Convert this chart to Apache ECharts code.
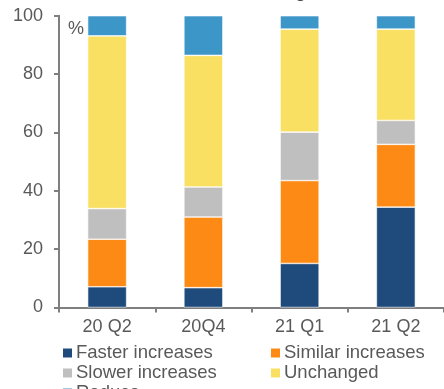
<!DOCTYPE html>
<html>
<head>
<meta charset="utf-8">
<script src="https://cdn.jsdelivr.net/npm/echarts@6/dist/echarts.min.js"></script>
<style>
  html, body { margin: 0; padding: 0; background: #fff; }
  #chart { width: 444px; height: 389px; }
</style>
</head>
<body>
<div id="chart"></div>
<script>
// Quarters surveyed
const categories = ['20 Q2', '20Q4', '21 Q1', '21 Q2'];

// Share of responses, % (each quarter stacks to 100)
const fasterIncreases  = [7.1, 6.8, 15.1, 34.4];
const similarIncreases = [16.3, 24.2, 28.4, 21.5];
const slowerIncreases  = [10.5, 10.3, 16.6, 8.2];
const unchanged        = [59.2, 45.1, 35.3, 31.3];
const reduce           = [6.9, 13.6, 4.6, 4.6];

const yTicks = [0, 20, 40, 60, 80, 100];

const seriesDefs = [
  { name: 'Faster increases', data: fasterIncreases, color: '#1F4A7C' },
  { name: 'Similar increases', data: similarIncreases, color: '#FD8A14' },
  { name: 'Slower increases', data: slowerIncreases, color: '#BFBFBF' },
  { name: 'Unchanged', data: unchanged, color: '#F9E063' },
  { name: 'Reduce', data: reduce, color: '#3D96C8' }
];

const textColor = '#595959';
const axisColor = '#7F7F7F';
const font = 'Liberation Sans, Arial, sans-serif';

const chart = echarts.init(document.getElementById('chart'), null, { renderer: 'canvas' });

const legendCommon = {
  type: 'plain', orient: 'vertical', top: 343.5, height: 120, itemGap: 1,
  itemWidth: 11, itemHeight: 11, icon: 'rect', padding: 0,
  textStyle: { color: textColor, fontSize: 18.5, fontFamily: font, padding: [0, 0, 0, -2] }
};

chart.setOption({
  animation: false,
  grid: { left: 59, top: 15.7, width: 392, height: 291.8, containLabel: false },
  xAxis: {
    type: 'category',
    data: categories,
    axisLine: { lineStyle: { color: axisColor, width: 2 } },
    axisTick: { show: true, length: 5, lineStyle: { color: axisColor, width: 2 } },
    axisLabel: { color: textColor, fontSize: 18, fontFamily: font, margin: 11 }
  },
  yAxis: {
    type: 'value',
    min: yTicks[0],
    max: yTicks[yTicks.length - 1],
    interval: 20,
    axisLine: { show: true, lineStyle: { color: axisColor, width: 2 } },
    axisTick: { show: true, length: 5, lineStyle: { color: axisColor, width: 2 } },
    splitLine: { show: false },
    axisLabel: { color: textColor, fontSize: 18, fontFamily: font, margin: 16 }
  },
  legend: [
    Object.assign({}, legendCommon, {
      left: 61,
      data: ['Faster increases', 'Slower increases', 'Reduce']
    }),
    Object.assign({}, legendCommon, {
      left: 269,
      data: ['Similar increases', 'Unchanged']
    })
  ],
  graphic: [
    {
      type: 'text', left: 68, top: 20,
      style: { text: '%', fill: textColor, font: '18px ' + font }
    },
    {
      type: 'text', left: 245, top: -17,
      style: { text: 'Pricing', fill: '#404040', font: 'bold 18px ' + font }
    }
  ],
  series: seriesDefs.map(s => ({
    name: s.name,
    type: 'bar',
    stack: 'total',
    barWidth: 39,
    data: s.data,
    itemStyle: { color: s.color, borderColor: '#ffffff', borderWidth: 0.6 }
  }))
});
</script>
</body>
</html>
